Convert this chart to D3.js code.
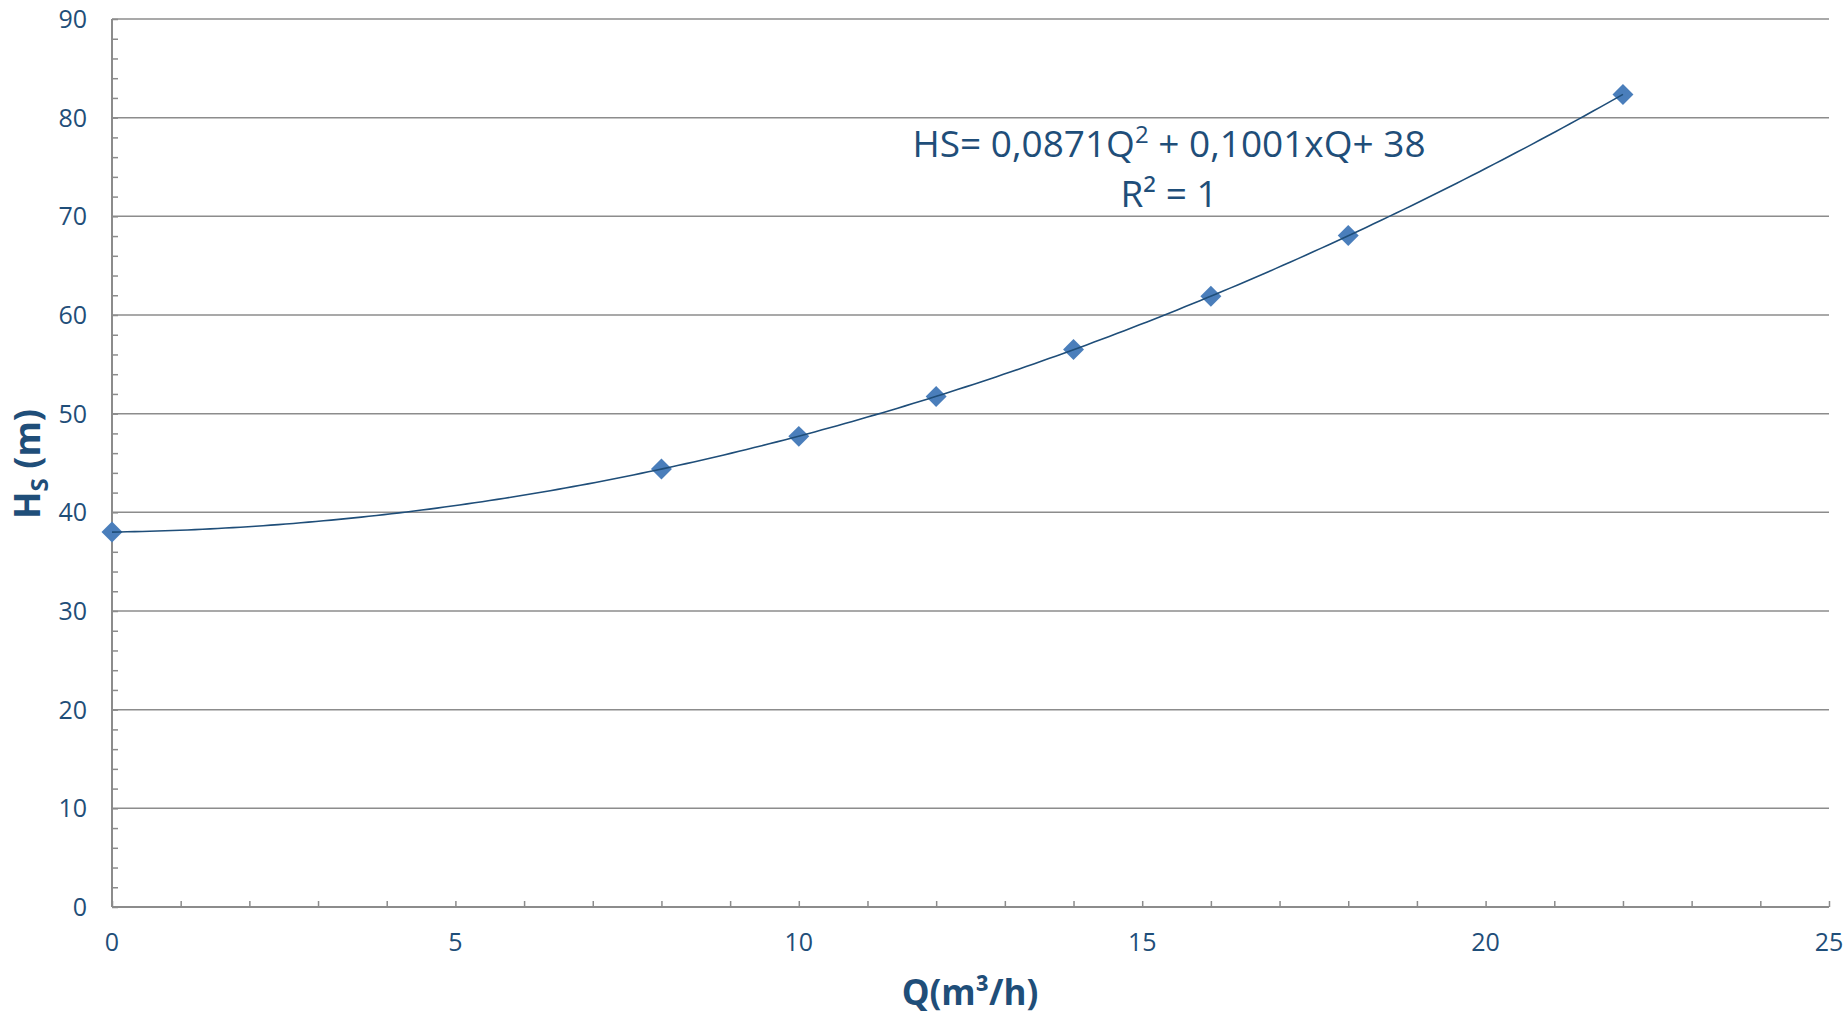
<!DOCTYPE html>
<html><head><meta charset="utf-8">
<script src="https://cdn.jsdelivr.net/npm/d3@7"></script>
<style>
html,body{margin:0;padding:0;background:#fff;}
svg{display:block;font-family:"Open Sans",sans-serif;}
</style></head>
<body><svg id="c" width="1847" height="1016"></svg>
<script>
const qValues = [0, 8, 10, 12, 14, 16, 18, 22];
const hsValues = [38, 44.4, 47.7, 51.75, 56.5, 61.9, 68.05, 82.35];
const xTicks = [0, 5, 10, 15, 20, 25];
const yTicks = [0, 10, 20, 30, 40, 50, 60, 70, 80, 90];
const equationText = "HS= 0,0871Q";
const equationText2 = " + 0,1001xQ+ 38";
const r2Text = "R² = 1";

const svg = d3.select("#c");
const M = {left:112, right:1829, top:19, bottom:907};
const x = d3.scaleLinear().domain([0,25]).range([M.left, M.right]);
const y = d3.scaleLinear().domain([0,90]).range([M.bottom, M.top]);
const textCol = "#1F4E79", gridCol = "#8c8c8c";

// gridlines
svg.append("g").selectAll("line").data(yTicks.filter(d=>d>0)).join("line")
  .attr("x1", M.left).attr("x2", M.right)
  .attr("y1", d=>y(d)).attr("y2", d=>y(d))
  .attr("stroke", gridCol).attr("stroke-width", 1.5);

// y axis
const ya = svg.append("g").attr("transform", `translate(${M.left},0)`)
  .call(d3.axisRight(y).tickValues(d3.range(0, 91, 2)).tickSize(6).tickFormat(""));
ya.select(".domain").attr("stroke", gridCol).attr("stroke-width", 2).attr("d", `M0,${M.top}V${M.bottom}`);
ya.selectAll(".tick line").attr("stroke", gridCol).attr("stroke-width", 1.5);
svg.append("g").selectAll("text").data(yTicks).join("text")
  .attr("x", 87).attr("y", d=>y(d)).attr("dy", "0.36em").attr("text-anchor","end")
  .attr("fill", textCol).attr("font-size", 25).text(d=>d);

// x axis
const xa = svg.append("g").attr("transform", `translate(0,${M.bottom})`)
  .call(d3.axisTop(x).tickValues(d3.range(0, 26, 1)).tickSize(6).tickFormat(""));
xa.select(".domain").attr("stroke", gridCol).attr("stroke-width", 2).attr("d", `M${M.left},0H${M.right}`);
xa.selectAll(".tick line").attr("stroke", gridCol).attr("stroke-width", 1.5);
svg.append("g").selectAll("text").data(xTicks).join("text")
  .attr("x", d=>x(d)).attr("y", 942).attr("dy", "0.36em").attr("text-anchor","middle")
  .attr("fill", textCol).attr("font-size", 25).text(d=>d);

// markers
const pts = qValues.map((q,i)=>[q,hsValues[i]]);
const diamond = d3.symbol().type(d3.symbolDiamond2).size(280);
svg.append("g").selectAll("path").data(pts).join("path")
  .attr("d", diamond).attr("transform", d=>`translate(${x(d[0])},${y(d[1])})`)
  .attr("fill", "#4A7EBB");

// polynomial (order 2) least-squares trendline fitted to the data
function fitQuad(xs, ys){
  let S=[0,0,0,0,0], T=[0,0,0];
  xs.forEach((xv,i)=>{ for(let k=0;k<5;k++) S[k]+=Math.pow(xv,k); for(let k=0;k<3;k++) T[k]+=ys[i]*Math.pow(xv,k); });
  const A=[[S[0],S[1],S[2],T[0]],[S[1],S[2],S[3],T[1]],[S[2],S[3],S[4],T[2]]];
  for(let i=0;i<3;i++){ for(let j=i+1;j<3;j++){ const f=A[j][i]/A[i][i]; for(let k=i;k<4;k++) A[j][k]-=f*A[i][k]; } }
  const c=[0,0,0];
  for(let i=2;i>=0;i--){ let s=A[i][3]; for(let k=i+1;k<3;k++) s-=A[i][k]*c[k]; c[i]=s/A[i][i]; }
  return c;
}
const coef = fitQuad(qValues, hsValues);
const qMin = d3.min(qValues), qMax = d3.max(qValues);
const trend = d3.range(qMin, qMax + 0.001, (qMax-qMin)/200).map(q=>[q, coef[0]+coef[1]*q+coef[2]*q*q]);
const line = d3.line().x(d=>x(d[0])).y(d=>y(d[1]));
svg.append("path").datum(trend)
  .attr("d", line).attr("fill","none").attr("stroke","#1F4E79").attr("stroke-width",1.6);

// equation
const eq = svg.append("text").attr("x", 1169).attr("y", 157).attr("text-anchor","middle")
  .attr("fill", textCol).attr("font-size", 37);
eq.append("tspan").text(equationText);
eq.append("tspan").attr("dy", -14).attr("font-size", 24).text("2");
eq.append("tspan").attr("dy", 14).text(equationText2);
svg.append("text").attr("x", 1169).attr("y", 207).attr("text-anchor","middle")
  .attr("fill", textCol).attr("font-size", 37).text(r2Text);

// axis titles
svg.append("text").attr("x", 970).attr("y", 1005).attr("text-anchor","middle")
  .attr("fill", textCol).attr("font-size", 35).attr("font-weight","bold").text("Q(m³/h)");
const yt = svg.append("text").attr("transform","translate(40,464) rotate(-90)").attr("text-anchor","middle")
  .attr("fill", textCol).attr("font-size", 36).attr("font-weight","bold");
yt.append("tspan").text("H");
yt.append("tspan").attr("dy", 8).attr("font-size", 24).text("S");
yt.append("tspan").attr("dy", -8).text(" (m)");
</script></body></html>
